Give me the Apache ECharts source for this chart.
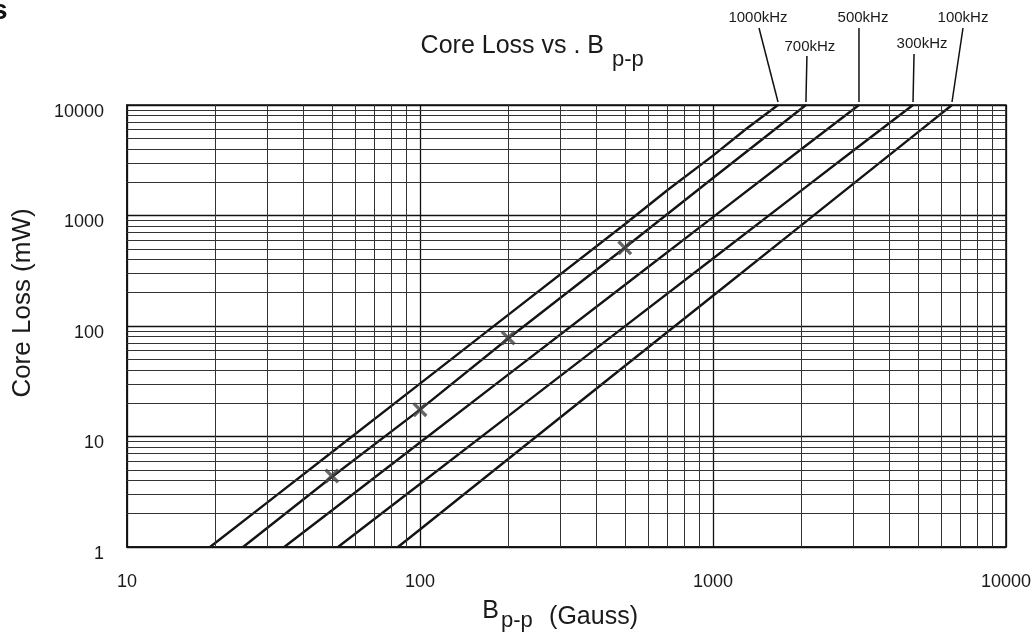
<!DOCTYPE html>
<html><head><meta charset="utf-8">
<script src="https://cdn.jsdelivr.net/npm/echarts@6/dist/echarts.min.js"></script>
<style>html,body{margin:0;padding:0;background:#fff}#c{width:1034px;height:632px}</style>
</head><body><div id="c"></div>
<script>
// ---- data ----
const freqLabels = ['1000kHz', '700kHz', '500kHz', '300kHz', '100kHz'];
const b1000 = [19.2, 30, 50, 100, 200, 500, 700, 1000, 1300, 1667];
const p1000 = [1, 2.51, 7.2, 30.1, 126, 833, 1700, 3480, 6100, 10000];
const b700 = [24.9, 50, 100, 200, 500, 1000, 1500, 2076];
const p700 = [1, 4.3, 17.5, 77, 510, 2184, 5080, 10000];
const b500 = [34.4, 50, 100, 200, 500, 1000, 2000, 3150];
const p500 = [1, 2.14, 8.82, 36.3, 235, 967, 3978, 10000];
const b300 = [52.5, 100, 200, 500, 1000, 2000, 3000, 4817];
const p300 = [1, 3.72, 15.3, 99.3, 408, 1679, 3838, 10000];
const b100 = [84.1, 100, 200, 500, 1000, 2000, 5000, 6543];
const p100 = [1, 1.44, 6.25, 43.4, 188, 814, 5655, 10000];
const markerB = [50, 100, 200, 500];
const markerP = [4.4, 17.5, 78, 510];
const xMinorTicks = [20, 30, 40, 50, 60, 70, 80, 90, 200, 300, 400, 500, 600, 700, 800, 900, 2000, 3000, 4000, 5000, 6000, 7000, 8000, 9000];
const yMinorTicks = [2, 3, 4, 5, 6, 7, 8, 9, 20, 30, 40, 50, 60, 70, 80, 90, 200, 300, 400, 500, 600, 700, 800, 900, 2000, 3000, 4000, 5000, 6000, 7000, 8000, 9000];

const curvesB = [b1000, b700, b500, b300, b100];
const curvesP = [p1000, p700, p500, p300, p100];

// ---- layout / style for the frequency annotations ----
const annoLabelDx = [-20, 4, 4, 9, 11];
const annoLabelY = [18, 47, 18, 44, 18];
const annoLeaderTopDx = [-19, 1, 0, 1, 11];
const annoLeaderTopY = [28, 56, 28, 54, 28];

const FONT = 'Liberation Sans, Arial, sans-serif';
const chart = echarts.init(document.getElementById('c'), null, {renderer: 'canvas'});

const series = curvesB.map((bs, k) => ({
  name: freqLabels[k],
  type: 'line',
  data: bs.map((b, i) => [b, curvesP[k][i]]),
  showSymbol: false,
  symbol: 'none',
  lineStyle: {color: '#141414', width: 2.4},
  z: 4,
  silent: true
}));

series.push({
  type: 'scatter',
  data: markerB.map((b, i) => [b, markerP[i]]),
  symbol: 'path://M0,1.6 L1.6,0 L10,8.4 L8.4,10 Z M8.4,0 L10,1.6 L1.6,10 L0,8.4 Z',
  symbolSize: 15,
  itemStyle: {color: '#444'},
  z: 5,
  silent: true
});

series.push({
  type: 'line',
  data: [],
  z: 1,
  silent: true,
  markLine: {
    silent: true,
    symbol: ['none', 'none'],
    label: {show: false},
    animation: false,
    lineStyle: {type: 'solid', color: '#333', width: 1},
    emphasis: {disabled: true},
    data: xMinorTicks.map(v => ({xAxis: v})).concat(yMinorTicks.map(v => ({yAxis: v})))
  }
});

const fmt = v => String(Math.round(v));

chart.setOption({
  animation: false,
  backgroundColor: '#fff',
  grid: {left: 127, right: 27, top: 105, bottom: 85, show: true, borderColor: '#111', borderWidth: 1.5, backgroundColor: 'transparent'},
  xAxis: {
    type: 'log', logBase: 10, min: 10, max: 10000,
    axisLine: {show: true, lineStyle: {color: '#111', width: 1.5}},
    axisTick: {show: false},
    axisLabel: {formatter: fmt, fontSize: 18, color: '#1a1a1a', fontFamily: FONT, margin: 26, showMinLabel: true, showMaxLabel: true},
    splitLine: {show: true, lineStyle: {color: '#111', width: 1.3}},
    minorTick: {show: false}, minorSplitLine: {show: false}
  },
  yAxis: {
    type: 'log', logBase: 10, min: 1, max: 10000,
    axisLine: {show: true, lineStyle: {color: '#111', width: 1.5}},
    axisTick: {show: false},
    axisLabel: {formatter: fmt, fontSize: 18, color: '#1a1a1a', fontFamily: FONT, margin: 23, verticalAlign: 'top', lineHeight: 14, showMinLabel: true, showMaxLabel: true},
    splitLine: {show: true, lineStyle: {color: '#111', width: 1.3}},
    minorTick: {show: false}, minorSplitLine: {show: false}
  },
  series: series
});

// ---- texts and annotation leaders ----
const graphics = [
  {type: 'text', left: -8, top: -3, style: {text: 's', font: 'bold 28px ' + FONT, fill: '#111'}},
  {type: 'text', x: 604, y: 46, style: {text: 'Core Loss vs . B', font: '25px ' + FONT, fill: '#1a1a1a', textAlign: 'right', textVerticalAlign: 'middle'}},
  {type: 'text', x: 612, y: 60, style: {text: 'p-p', font: '22px ' + FONT, fill: '#1a1a1a', textAlign: 'left', textVerticalAlign: 'middle'}},
  {type: 'text', x: 499, y: 611, style: {text: 'B', font: '25px ' + FONT, fill: '#1a1a1a', textAlign: 'right', textVerticalAlign: 'middle'}},
  {type: 'text', x: 501, y: 621, style: {text: 'p-p', font: '22px ' + FONT, fill: '#1a1a1a', textAlign: 'left', textVerticalAlign: 'middle'}},
  {type: 'text', x: 638, y: 617, style: {text: '(Gauss)', font: '25px ' + FONT, fill: '#1a1a1a', textAlign: 'right', textVerticalAlign: 'middle'}},
  {type: 'text', x: 23, y: 303, rotation: Math.PI / 2, style: {text: 'Core Loss (mW)', font: '26px ' + FONT, fill: '#1a1a1a', textAlign: 'center', textVerticalAlign: 'middle'}}
];

curvesB.forEach((bs, k) => {
  const end = chart.convertToPixel({gridIndex: 0}, [bs[bs.length - 1], curvesP[k][curvesP[k].length - 1]]);
  graphics.push({type: 'text', x: end[0] + annoLabelDx[k], y: annoLabelY[k],
    style: {text: freqLabels[k], font: '15px ' + FONT, fill: '#1a1a1a', textAlign: 'center', textVerticalAlign: 'middle'}});
  graphics.push({type: 'line', shape: {x1: end[0] + annoLeaderTopDx[k], y1: annoLeaderTopY[k], x2: end[0], y2: end[1] - 3},
    style: {stroke: '#111', lineWidth: 1.5}});
});

chart.setOption({graphic: graphics});
</script>
</body></html>
